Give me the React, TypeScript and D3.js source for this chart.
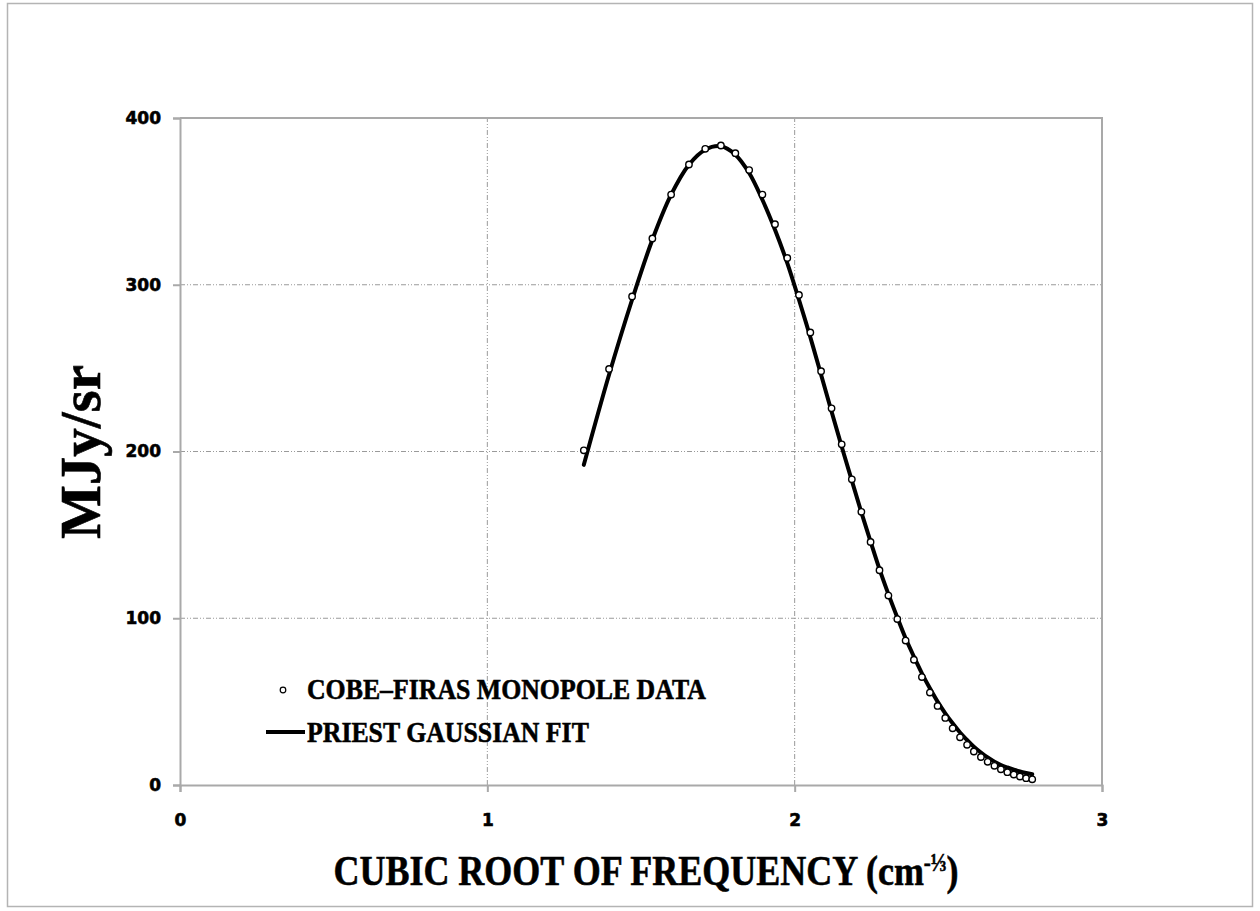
import React, { useEffect, useRef } from "react";
import * as d3 from "d3";

// cube root of frequency (cm^-1/3)
const xValues = [
  1.314, 1.396, 1.471, 1.537, 1.598, 1.656, 1.709, 1.760, 1.807, 1.852,
  1.895, 1.936, 1.976, 2.014, 2.051, 2.086, 2.120, 2.153, 2.186, 2.217,
  2.247, 2.276, 2.305, 2.334, 2.361, 2.388, 2.414, 2.440, 2.465, 2.490,
  2.514, 2.538, 2.561, 2.583, 2.606, 2.628, 2.650, 2.671, 2.692, 2.713,
  2.733, 2.753, 2.773,
];

// COBE-FIRAS monopole (MJy/sr)
const firasValues = [
  200.7, 249.5, 293.0, 327.8, 354.1, 372.1, 381.5, 383.5, 378.9, 368.8,
  354.1, 336.3, 316.1, 293.9, 271.4, 248.2, 225.9, 204.3, 183.3, 163.8,
  145.8, 128.8, 113.6, 99.5, 86.6, 75.1, 64.7, 55.4, 47.4, 40.2,
  34.0, 28.6, 24.1, 20.1, 16.8, 13.9, 11.5, 9.4, 7.7, 6.3,
  5.1, 4.1, 3.4,
];

// gaussian fit
const fitValues = [
  192, 246, 291, 327, 354, 372, 381, 383, 378, 367,
  351, 333, 313, 291, 268.5, 246, 224, 203, 182.5, 163.5,
  146, 129.5, 114.5, 100.5, 88, 77, 67, 58, 50, 43,
  37, 31.5, 27, 23, 19.5, 16.5, 14, 12, 10.5, 9.2,
  8.1, 7.2, 6.4,
];

const xTicks = [0, 1, 2, 3];
const yTicks = [0, 100, 200, 300, 400];

const App = () => {
  const svgRef = useRef<SVGSVGElement>(null);

  useEffect(() => {
    const width = 1260;
    const height = 911;
    const margin = { top: 118, right: 158, bottom: 126, left: 180 };

    const svg = d3.select(svgRef.current)
      .attr("width", width)
      .attr("height", height);

    svg.selectAll("*").remove();

    const x = d3.scaleLinear().domain([0, 3]).range([margin.left, width - margin.right]);
    const y = d3.scaleLinear().domain([0, 400]).range([height - margin.bottom, margin.top]);

    const axisColor = "#a9a9a9";
    const tickFont = "'DejaVu Sans', Verdana, sans-serif";
    const titleFont = "'Liberation Serif', 'Times New Roman', serif";

    // outer frame
    svg.append("rect")
      .attr("x", 7.5).attr("y", 3.5)
      .attr("width", 1245).attr("height", 903)
      .attr("fill", "white")
      .attr("stroke", "#b4b4b4")
      .attr("stroke-width", 1.5);

    // grid
    svg.append("g")
      .selectAll("line")
      .data(yTicks.filter(d => d > 0 && d < 400))
      .join("line")
      .attr("x1", x(0)).attr("x2", x(3))
      .attr("y1", d => y(d)).attr("y2", d => y(d))
      .attr("stroke", "#9a9a9a")
      .attr("stroke-width", 1)
      .attr("stroke-dasharray", "5,2,1,2,1,2");

    svg.append("g")
      .selectAll("line")
      .data(xTicks.filter(d => d > 0 && d < 3))
      .join("line")
      .attr("x1", d => x(d)).attr("x2", d => x(d))
      .attr("y1", y(0)).attr("y2", y(400))
      .attr("stroke", "#9a9a9a")
      .attr("stroke-width", 1)
      .attr("stroke-dasharray", "5,2,1,2,1,2");

    // plot border top / right
    svg.append("path")
      .attr("d", `M${x(0)},${y(400)}H${x(3)}V${y(0)}`)
      .attr("fill", "none")
      .attr("stroke", axisColor)
      .attr("stroke-width", 2);

    // axes
    const yAxis = svg.append("g")
      .attr("transform", `translate(${x(0)},0)`)
      .call(d3.axisLeft(y).tickValues(yTicks).tickSize(7).tickPadding(12).tickFormat(d3.format("d")));
    const xAxis = svg.append("g")
      .attr("transform", `translate(0,${y(0)})`)
      .call(d3.axisBottom(x).tickValues(xTicks).tickSize(7).tickPadding(22).tickFormat(d3.format("d")));

    [yAxis, xAxis].forEach(ax => {
      ax.select(".domain").attr("stroke", axisColor).attr("stroke-width", 2);
      ax.selectAll(".tick line").attr("stroke", axisColor).attr("stroke-width", 2);
      ax.selectAll(".tick text")
        .attr("fill", "black")
        .attr("stroke", "black")
        .attr("stroke-width", 0.6)
        .style("font-family", tickFont)
        .style("font-weight", "bold")
        .style("font-size", "17px");
    });

    // fit line
    const line = d3.line<number>()
      .x((_, i) => x(xValues[i]))
      .y(d => y(d))
      .curve(d3.curveCatmullRom);

    svg.append("path")
      .datum(fitValues)
      .attr("fill", "none")
      .attr("stroke", "black")
      .attr("stroke-width", 4)
      .attr("stroke-linecap", "round")
      .attr("d", line);

    // data points
    svg.append("g")
      .selectAll("circle")
      .data(firasValues)
      .join("circle")
      .attr("cx", (_, i) => x(xValues[i]))
      .attr("cy", d => y(d))
      .attr("r", 3.2)
      .attr("fill", "white")
      .attr("stroke", "black")
      .attr("stroke-width", 1.4);

    // legend
    const legend = svg.append("g");
    legend.append("circle")
      .attr("cx", 283).attr("cy", 690).attr("r", 2.8)
      .attr("fill", "white").attr("stroke", "black").attr("stroke-width", 1.2);
    legend.append("line")
      .attr("x1", 266).attr("x2", 305).attr("y1", 732).attr("y2", 732)
      .attr("stroke", "black").attr("stroke-width", 4);
    legend.append("text")
      .attr("transform", "translate(307,699) scale(1,1.1)")
      .attr("stroke", "black").attr("stroke-width", 0.5)
      .style("font-family", titleFont).style("font-weight", "bold").style("font-size", "25.8px")
      .text("COBE–FIRAS MONOPOLE DATA");
    legend.append("text")
      .attr("transform", "translate(307,742) scale(1,1.1)")
      .attr("stroke", "black").attr("stroke-width", 0.5)
      .style("font-family", titleFont).style("font-weight", "bold").style("font-size", "25.8px")
      .text("PRIEST GAUSSIAN FIT");

    // axis titles
    svg.append("text")
      .attr("transform", "translate(100,452) rotate(-90)")
      .attr("text-anchor", "middle")
      .attr("stroke", "black").attr("stroke-width", 0.6)
      .style("font-family", titleFont).style("font-weight", "bold").style("font-size", "57px")
      .text("MJy/sr");

    const xt = svg.append("text")
      .attr("transform", "translate(646,885) scale(1,1.2)")
      .attr("text-anchor", "middle")
      .attr("stroke", "black").attr("stroke-width", 0.5)
      .style("font-family", titleFont).style("font-weight", "bold").style("font-size", "36px");
    xt.append("tspan").text("CUBIC ROOT OF FREQUENCY (cm");
    xt.append("tspan").attr("dy", -12).style("font-size", "21px").text("-⅓");
    xt.append("tspan").attr("dy", 12).text(")");
  }, []);

  return (
    <div style={{ position: "absolute", left: 0, top: 0 }}>
      <svg ref={svgRef}></svg>
    </div>
  );
};

export default App;
